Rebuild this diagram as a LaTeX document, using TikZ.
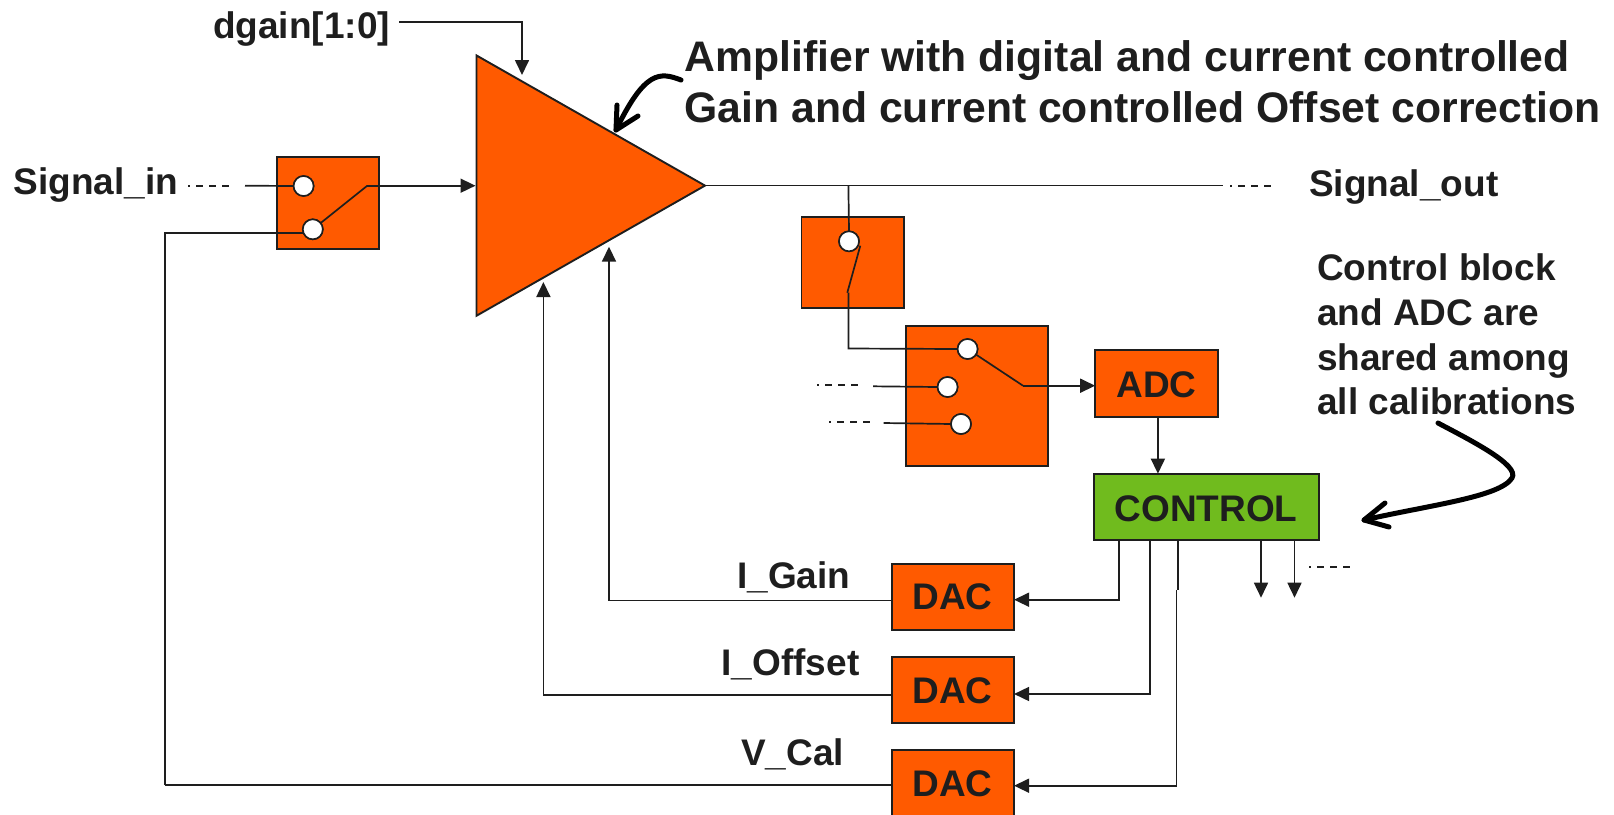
\documentclass[tikz,border=0pt]{standalone}
\usepackage{fontspec}
\setmainfont{Liberation Sans}
\usetikzlibrary{arrows.meta,shapes.geometric}
\definecolor{orng}{HTML}{FF5A00}
\definecolor{grn}{HTML}{70BB1E}
\definecolor{ink}{HTML}{1E1E1E}
\tikzset{
  blk/.style={draw=ink,line width=1.9pt,fill=orng,inner sep=0pt,outer sep=0pt,rectangle},
  ctl/.style={blk,fill=grn},
  pin/.style={circle,draw=ink,line width=1.6pt,fill=white,minimum size=20pt,inner sep=0pt,outer sep=0pt},
  wire/.style={draw=ink,line width=1.7pt},
  arw/.style={wire,-{Triangle[length=15pt,width=14pt]}},
  dashline/.style={draw=ink,line width=1.7pt,dash pattern=on 7pt off 6pt,dash phase=5pt},
  fat/.style={draw=black,line width=5pt,line cap=round,line join=round},
  big/.style={text=ink,inner sep=0pt,anchor=base west,font=\fontsize{42.7pt}{44pt}\selectfont\bfseries},
  lab/.style={text=ink,inner sep=0pt,anchor=base west,font=\fontsize{37pt}{39pt}\selectfont\bfseries},
}
\begin{document}
\begin{tikzpicture}[x=1pt,y=-1pt]
\useasboundingbox (0,0) rectangle (1614,814);
\clip (0,0) rectangle (1614,814);
% blocks
\node[blk,isosceles triangle,isosceles triangle stretches,shape border rotate=0,
  minimum height=228.5pt,minimum width=260.3pt,anchor=apex] (amp) at (705,185.6) {};
\node[blk,minimum width=102.2pt,minimum height=91.7pt] (swa) at (328.1,202.8) {};
\node[blk,minimum width=102.8pt,minimum height=91.6pt] (swb) at (852.9,262.5) {};
\node[blk,minimum width=142pt,minimum height=140pt] (swc) at (977,395.7) {};
\node[blk,minimum width=122.5pt,minimum height=66.7pt] (adc) at (1156.4,383.3) {};
\node[ctl,minimum width=225pt,minimum height=66.3pt] (control) at (1206.2,506.8) {};
\node[blk,minimum width=122.3pt,minimum height=66.3pt] (daca) at (952.9,596.8) {};
\node[blk,minimum width=122.3pt,minimum height=66.3pt] (dacb) at (952.9,690.2) {};
\node[blk,minimum width=122.3pt,minimum height=66.3pt] (dacc) at (952.9,783.2) {};
% pins
\node[pin] (p1) at (303.6,186) {};
\node[pin] (p2) at (312.8,229.3) {};
\node[pin] (p3) at (849,241.3) {};
\node[pin] (p4) at (967.6,349) {};
\node[pin] (p5) at (947.6,387) {};
\node[pin] (p6) at (961,424) {};
% free ends and bends
\coordinate (dgs) at (399,22.3);
\coordinate (dgb) at (522,22.3);
\coordinate (dgt) at (522,75);
\coordinate (sid0) at (188,185.7);
\coordinate (sid1) at (234,185.7);
\coordinate (sis) at (245,185.7);
\coordinate (lv1) at (367.3,185.7);
\coordinate (ampin) at (475.5,185.7);
\coordinate (lp) at (165,232.7);
\coordinate (lb) at (165,785);
\coordinate (gt) at (609,246.7);
\coordinate (gb) at (609,600.5);
\coordinate (ot) at (543.4,282);
\coordinate (ob) at (543.4,695);
\coordinate (sigout) at (1223,185.6);
\coordinate (sod0) at (1230,186.3);
\coordinate (sod1) at (1276,186.3);
\coordinate (tap) at (848.4,185.6);
\coordinate (lv2a) at (860.3,245.7);
\coordinate (lv2b) at (847.3,292.7);
\coordinate (d1) at (848.4,292.7);
\coordinate (d2) at (848.4,348.5);
\coordinate (p5s) at (873,386.3);
\coordinate (p5d0) at (817,385);
\coordinate (p5d1) at (863,385);
\coordinate (p6s) at (883.6,423);
\coordinate (p6d0) at (829,422);
\coordinate (p6d1) at (875.5,422);
\coordinate (lv3b) at (1023,385.7);
\coordinate (c1t) at (1119.3,540);
\coordinate (c1b) at (1119.3,599.7);
\coordinate (c2t) at (1149.7,540);
\coordinate (c2b) at (1149.7,694);
\coordinate (c3t) at (1178,540);
\coordinate (c3b) at (1176.5,785.7);
\coordinate (c3m) at (1176.5,590);
\coordinate (c3n) at (1178,590);
\coordinate (o1t) at (1261,540);
\coordinate (o1b) at (1261,597.7);
\coordinate (o2t) at (1294.5,540);
\coordinate (o2b) at (1294.5,597.7);
\coordinate (od0) at (1309,567.3);
\coordinate (od1) at (1356,567.3);
% wires
\draw[arw] (dgs) -- (dgb) -- (dgt);
\draw[dashline] (sid0) -- (sid1);
\draw[wire] (sis) -- (p1.west);
\draw[wire] (p2) -- (lv1);
\draw[arw] (lv1) -- (ampin);
\draw[wire] (lb) -- (lp) -- (p2.west |- lp);
\draw[wire] (dacc.west |- lb) -- (lb);
\draw[arw] (dacb.west |- ob) -- (ob) -- (ot);
\draw[arw] (daca.west |- gb) -- (gb) -- (gt);
\draw[wire] (amp.apex) -- (sigout);
\draw[dashline] (sod0) -- (sod1);
\draw[wire] (tap) -- (p3.north);
\draw[wire] (lv2a) -- (lv2b);
\draw[wire] (d1) -- (d2) -- (p4.west);
\draw[wire] (p4) -- (lv3b);
\draw[arw] (lv3b) -- (adc.west |- lv3b);
\draw[wire] (p5s) -- (p5.west);
\draw[dashline] (p5d0) -- (p5d1);
\draw[wire] (p6s) -- (p6.west);
\draw[dashline] (p6d0) -- (p6d1);
\draw[arw] ([xshift=1.5pt]adc.south) -- ([xshift=1.5pt]adc.south |- control.north);
\draw[arw] (c1t) -- (c1b) -- (daca.east |- c1b);
\draw[arw] (c2t) -- (c2b) -- (dacb.east |- c2b);
\draw[wire] (c3t) -- (c3n);
\draw[arw] (c3m) -- (c3b) -- (dacc.east |- c3b);
\draw[arw] (o1t) -- (o1b);
\draw[arw] (o2t) -- (o2b);
\draw[dashline] (od0) -- (od1);
% pins over the wires
\node[pin] at (p1) {};
\node[pin] at (p2) {};
\node[pin] at (p3) {};
\node[pin] at (p4) {};
\node[pin] at (p5) {};
\node[pin] at (p6) {};
% callout arrows
\draw[fat] (681,80) .. controls (660,72) and (645,70) .. (616,130);
\draw[fat] (617,105) -- (616,130) -- (638,116);
\draw[fat] (1438,423) .. controls (1470,440) and (1520,465) .. (1512,478) .. controls (1500,497) and (1430,505) .. (1364,520);
\draw[fat] (1385,503) -- (1364,520) -- (1389,527);
% text
\node[lab] (tdgain) at (213,38.3) {dgain[1:0]};
\node[big] (tamp1) at (684.5,71) {Amplifier with digital and current controlled};
\node[big] (tamp2) at (684.5,122) {Gain and current controlled Offset correction};
\node[lab] (tsi) at (13.5,194) {Signal\_in};
\node[lab] (tso) at (1309,196) {Signal\_out};
\node[lab] (tc1) at (1317,280) {Control block};
\node[lab] (tc2) at (1317,325) {and ADC are};
\node[lab] (tc3) at (1317,370) {shared among};
\node[lab] (tc4) at (1317,414) {all calibrations};
\node[lab,anchor=base] (tadc) at (1156.4,397) {ADC};
\node[lab,anchor=base] (tctl) at (1206,521) {CONTROL};
\node[lab,anchor=base] (tda) at (952.6,609.3) {DAC};
\node[lab,anchor=base] (tdb) at (952.6,703) {DAC};
\node[lab,anchor=base] (tdc) at (952.6,796.7) {DAC};
\node[lab] (tg) at (737,588) {I\_Gain};
\node[lab] (to) at (721.5,675) {I\_Offset};
\node[lab] (tv) at (741,765) {V\_Cal};
\end{tikzpicture}
\end{document}
